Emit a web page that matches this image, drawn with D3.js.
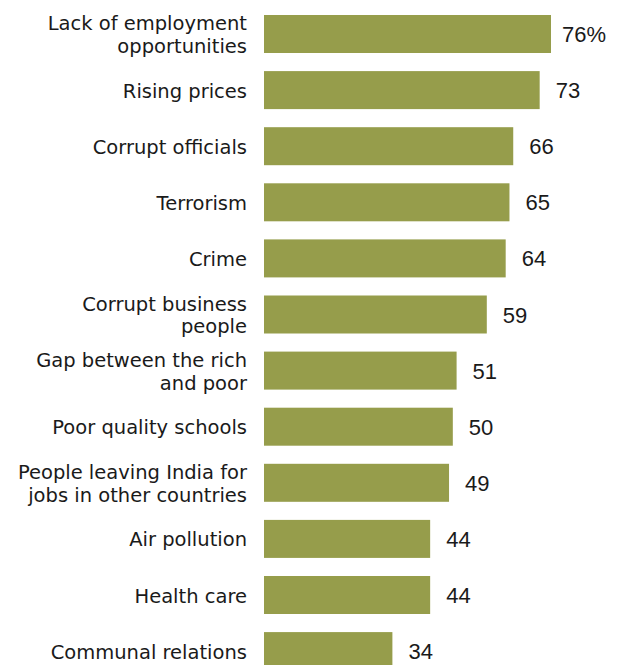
<!DOCTYPE html>
<html>
<head>
<meta charset="utf-8">
<script src="https://cdn.jsdelivr.net/npm/d3@7"></script>
<style>
  html, body { margin: 0; padding: 0; background: #ffffff; }
  svg { display: block; }
</style>
</head>
<body>
<svg id="chart" width="617" height="665"></svg>
<script>
const categories = [
  "Lack of employment\nopportunities",
  "Rising prices",
  "Corrupt officials",
  "Terrorism",
  "Crime",
  "Corrupt business\npeople",
  "Gap between the rich\nand poor",
  "Poor quality schools",
  "People leaving India for\njobs in other countries",
  "Air pollution",
  "Health care",
  "Communal relations"
];
const values = [76, 73, 66, 65, 64, 59, 51, 50, 49, 44, 44, 34];
const valueLabels = ["76%", "73", "66", "65", "64", "59", "51", "50", "49", "44", "44", "34"];

const data = categories.map((c, i) => ({ cat: c, value: values[i], label: valueLabels[i] }));

const svg = d3.select("#chart");
const barColor = "#969d4b";

const x = d3.scaleLinear().domain([0, 76]).range([264, 551]);
const y = d3.scaleBand()
  .domain(categories)
  .range([15, 15 + 11 * 56.1 + 38])
  .paddingInner(0.3226)
  .paddingOuter(0);

svg.append("g").selectAll("rect")
  .data(data)
  .join("rect")
  .attr("x", x(0))
  .attr("y", d => y(d.cat))
  .attr("width", d => x(d.value) - x(0))
  .attr("height", y.bandwidth())
  .attr("fill", barColor);

// category labels
const lineH = 22.7;
const catG = svg.append("g")
  .attr("font-family", "'DejaVu Sans', sans-serif")
  .attr("font-size", 19.5)
  .attr("fill", "#1a1a1a")
  .attr("text-anchor", "end");

data.forEach(d => {
  const lines = d.cat.split("\n");
  const cy = y(d.cat) + y.bandwidth() / 2;
  const t = catG.append("text").attr("x", 247);
  lines.forEach((ln, j) => {
    const base = cy + 7.6 + (j - (lines.length - 1) / 2) * lineH;
    t.append("tspan")
      .attr("x", 247)
      .attr("y", base)
      .text(ln);
  });
});

// value labels
svg.append("g")
  .attr("font-family", "'Liberation Sans', Arial, sans-serif")
  .attr("font-size", 22)
  .attr("fill", "#1a1a1a")
  .selectAll("text")
  .data(data)
  .join("text")
  .attr("x", d => x(d.value) + (d.label.endsWith("%") ? 11 : 16))
  .attr("y", d => y(d.cat) + y.bandwidth() / 2 + 8)
  .text(d => d.label);
</script>
</body>
</html>
